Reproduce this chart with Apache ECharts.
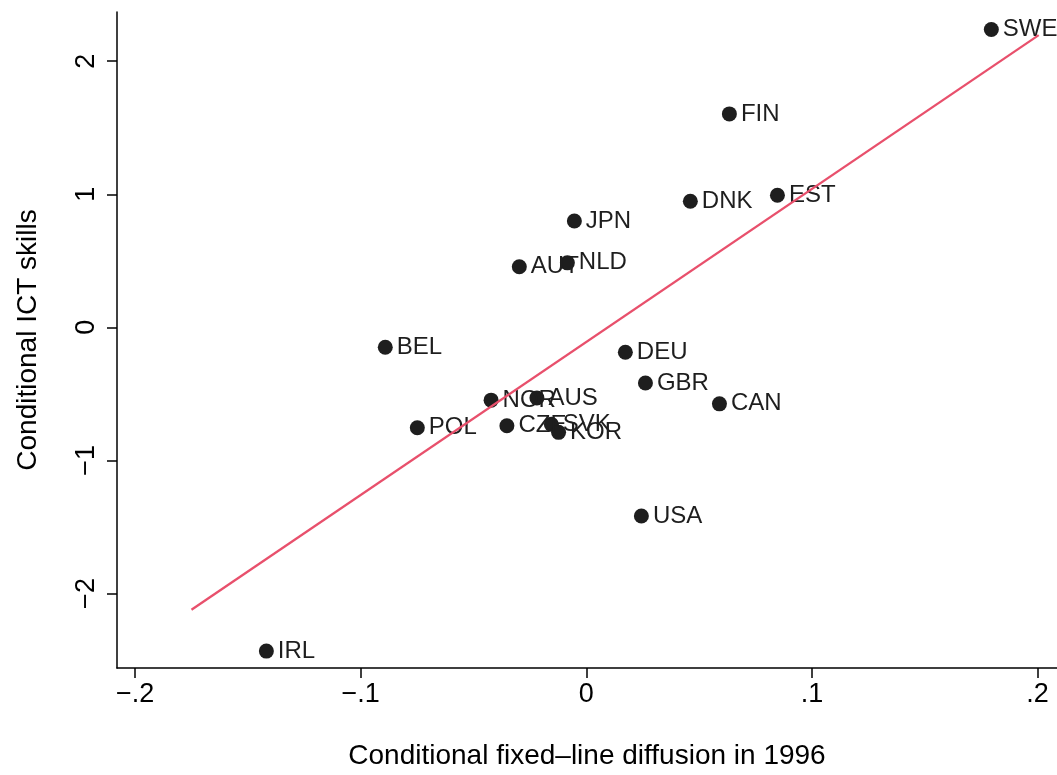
<!DOCTYPE html>
<html>
<head>
<meta charset="utf-8">
<script src="https://cdn.jsdelivr.net/npm/echarts@6/dist/echarts.min.js"></script>
<style>
html,body{margin:0;padding:0;background:#fff;}
#main{width:1057px;height:775px;}
</style>
</head>
<body>
<div id="main"></div>
<script>
// Data
const countries = ['SWE','FIN','DNK','EST','JPN','NLD','AUT','BEL','DEU','GBR','CAN','NOR','AUS','POL','CZE','SVK','KOR','USA','IRL'];
const diffusion = [0.1795,0.0634,0.0461,0.0847,-0.0053,-0.0084,-0.0297,-0.0891,0.0173,0.0262,0.0590,-0.0422,-0.0219,-0.0749,-0.0352,-0.0155,-0.0123,0.0244,-0.1418];
const ictSkills = [2.239,1.604,0.948,0.993,0.799,0.485,0.455,-0.149,-0.187,-0.418,-0.575,-0.547,-0.530,-0.754,-0.739,-0.729,-0.789,-1.418,-2.433];
const fitX = [-0.175, 0.2005];
const fitY = [-2.122, 2.196];
const xTickValues = [-0.2, -0.1, 0, 0.1, 0.2];
const xTickLabels = ['\u2212.2', '\u2212.1', '0', '.1', '.2'];
const yTickValues = [-2, -1, 0, 1, 2];
const yTickLabels = ['\u22122', '\u22121', '0', '1', '2'];
const xTitle = 'Conditional fixed\u2013line diffusion in 1996';
const yTitle = 'Conditional ICT skills';

const FONT = '"Liberation Sans", Arial, Helvetica, sans-serif';
const pts = countries.map((c, i) => ({ name: c, value: [diffusion[i], ictSkills[i]] }));

function fmt(values, labels) {
  return function (v) {
    for (let i = 0; i < values.length; i++) {
      if (Math.abs(values[i] - v) < 1e-9) return labels[i];
    }
    return '';
  };
}

const chart = echarts.init(document.getElementById('main'));
chart.setOption({
  animation: false,
  backgroundColor: '#ffffff',
  grid: { left: 117, right: 0, top: 12, bottom: 100, containLabel: false },
  xAxis: {
    type: 'value',
    min: -0.208, max: 0.2086,
    axisLine: { show: true, onZero: false, lineStyle: { color: '#000', width: 1.5 } },
    axisTick: { show: true, length: 10, inside: false, customValues: xTickValues, lineStyle: { color: '#000', width: 1.5 } },
    axisLabel: { customValues: xTickValues, formatter: fmt(xTickValues, xTickLabels), margin: 13, fontSize: 27, color: '#000', fontFamily: FONT },
    splitLine: { show: false },
    name: xTitle, nameLocation: 'middle', nameGap: 74,
    nameTextStyle: { fontSize: 28, color: '#000', fontFamily: FONT }
  },
  yAxis: {
    type: 'value',
    min: -2.56, max: 2.37,
    axisLine: { show: true, onZero: false, lineStyle: { color: '#000', width: 1.5 } },
    axisTick: { show: true, length: 10, inside: false, customValues: yTickValues, lineStyle: { color: '#000', width: 1.5 } },
    axisLabel: { customValues: yTickValues, formatter: fmt(yTickValues, yTickLabels), rotate: 90, margin: 17, fontSize: 27, color: '#000', fontFamily: FONT },
    splitLine: { show: false },
    name: yTitle, nameLocation: 'middle', nameGap: 75, nameRotate: 90,
    nameTextStyle: { fontSize: 28, color: '#000', fontFamily: FONT }
  },
  series: [
    {
      type: 'scatter',
      data: pts,
      symbol: 'circle',
      symbolSize: 15,
      itemStyle: { color: '#1e1e1e', opacity: 1 },
      label: {
        show: true, position: 'right', distance: 4,
        formatter: p => p.name,
        fontSize: 24, color: '#1e1e1e', fontFamily: FONT
      },
      labelLayout: { hideOverlap: false },
      z: 2
    },
    {
      type: 'line',
      data: [[fitX[0], fitY[0]], [fitX[1], fitY[1]]],
      symbol: 'none',
      lineStyle: { color: '#e8506c', width: 2.3 },
      z: 3,
      silent: true
    }
  ]
});
</script>
</body>
</html>
